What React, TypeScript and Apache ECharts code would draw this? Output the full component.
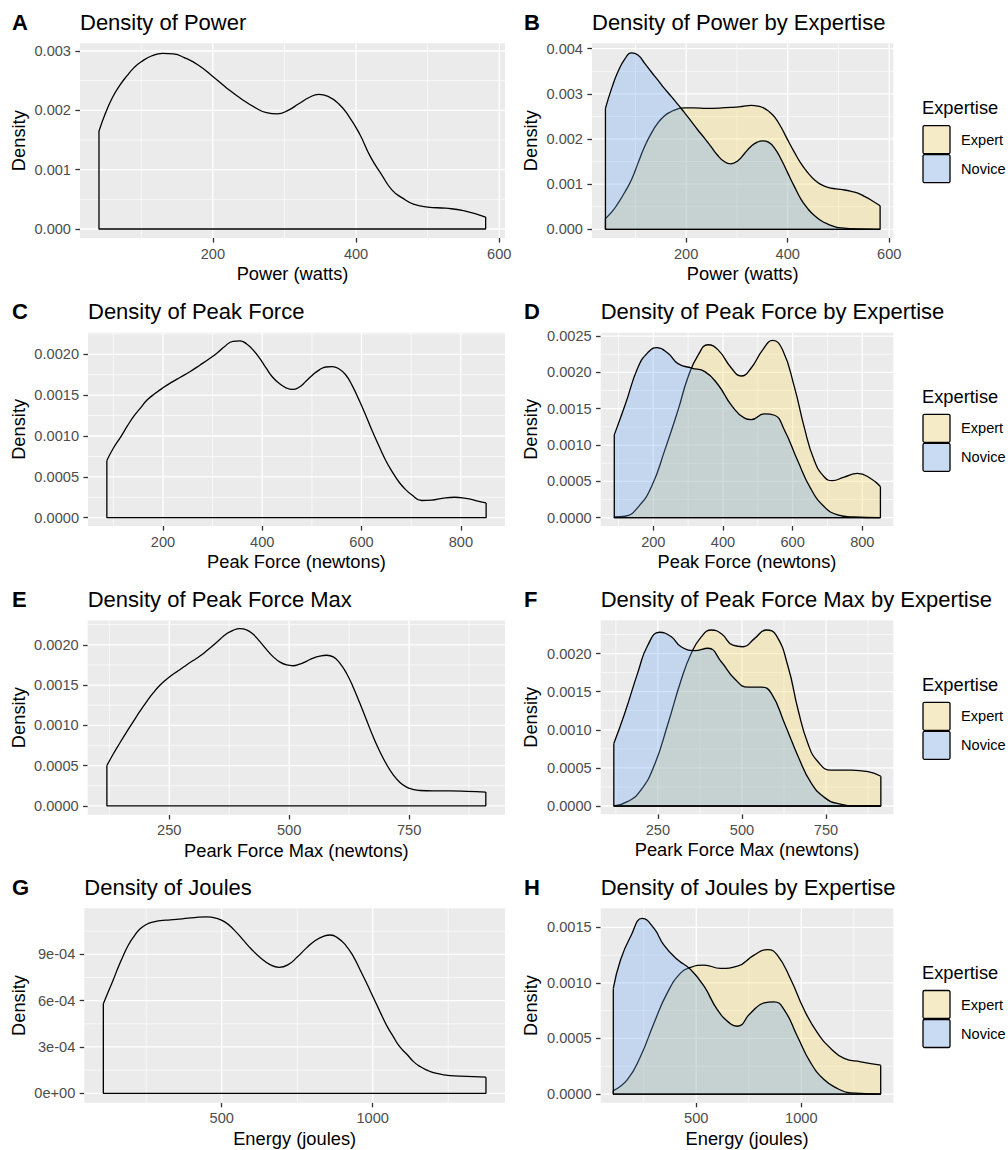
import React, { useEffect, useRef } from "react";
import * as echarts from "echarts";

// ---------------- data ----------------
// A: Power (all)
const powerAllX = [41, 50, 60, 70, 80, 90, 100, 115, 130, 145, 160, 180, 200, 220, 240, 260, 275, 290, 305, 320, 335, 348, 360, 375, 390, 405, 420, 435, 450, 465, 480, 500, 525, 550, 581];
const powerAllY = [0.00165, 0.00195, 0.00222, 0.00242, 0.00258, 0.00272, 0.00282, 0.00292, 0.00296, 0.00295, 0.00289, 0.00276, 0.00257, 0.00237, 0.00219, 0.00204, 0.00196, 0.00194, 0.002, 0.00211, 0.00222, 0.00227, 0.00224, 0.00212, 0.0019, 0.0016, 0.00122, 0.00093, 0.00066, 0.00052, 0.00042, 0.00037, 0.00035, 0.00031, 0.0002];
// B: Power by expertise
const powerNovX = [41, 54, 66, 79, 92, 105, 118, 131, 144, 157, 171, 184, 197, 210, 223, 236, 249, 262, 275, 288, 302, 315, 328, 340, 351, 362, 374, 387, 400, 413, 426, 440, 453, 466, 479, 492, 505, 538, 582];
const powerNovY = [0.00268, 0.00315, 0.0035, 0.00377, 0.00391, 0.00386, 0.00368, 0.00349, 0.00331, 0.00312, 0.00294, 0.00276, 0.00258, 0.00239, 0.0022, 0.00202, 0.00183, 0.00164, 0.0015, 0.00145, 0.00152, 0.00168, 0.00184, 0.00193, 0.00196, 0.00193, 0.0018, 0.00155, 0.00125, 0.00095, 0.00067, 0.00045, 0.0003, 0.00019, 0.000115, 0.00006, 0.00003, 0.000006, 0.0];
const powerExpX = [41, 54, 66, 79, 92, 105, 118, 131, 144, 157, 171, 184, 197, 215, 240, 265, 290, 310, 328, 341, 354, 364, 374, 387, 400, 413, 426, 440, 453, 466, 479, 495, 512, 525, 538, 551, 564, 582];
const powerExpY = [0.00024, 0.00039, 0.00058, 0.00082, 0.00109, 0.00146, 0.00183, 0.00212, 0.00235, 0.00251, 0.00261, 0.00267, 0.00269, 0.00269, 0.00268, 0.002685, 0.0027, 0.00272, 0.002745, 0.00273, 0.00268, 0.0026, 0.00249, 0.00226, 0.00198, 0.00171, 0.00146, 0.00125, 0.00109, 0.00099, 0.00093, 0.000895, 0.00087, 0.00084, 0.0008, 0.00073, 0.00065, 0.00052];
// C: Peak force (all)
const pfAllX = [87, 100, 115, 128, 141, 155, 168, 184, 200, 218, 235, 255, 275, 292, 308, 325, 341, 355, 368, 382, 395, 408, 421, 435, 448, 461, 475, 488, 502, 515, 528, 541, 555, 568, 581, 595, 608, 621, 635, 648, 661, 675, 688, 701, 721, 741, 765, 788, 810, 830, 851];
const pfAllY = [0.0007, 0.00085, 0.00099, 0.00112, 0.00124, 0.001345, 0.00144, 0.00152, 0.00159, 0.00166, 0.00172, 0.00179, 0.00187, 0.00194, 0.00201, 0.0021, 0.00216, 0.002165, 0.00213, 0.00205, 0.00195, 0.00183, 0.00172, 0.00164, 0.00159, 0.00157, 0.0016, 0.00167, 0.00175, 0.00181, 0.001845, 0.00185, 0.00182, 0.00175, 0.00162, 0.00144, 0.00126, 0.00107, 0.00088, 0.00071, 0.00057, 0.00044, 0.00035, 0.00028, 0.00021, 0.000215, 0.00024, 0.00025, 0.000235, 0.00021, 0.00018];
// D: Peak force by expertise
const pfNovX = [88, 119, 157, 186, 210, 243, 271, 310, 348, 386, 424, 462, 481, 519, 548, 576, 614, 652, 691, 729, 776, 852];
const pfNovY = [0.00114, 0.00155, 0.00208, 0.00228, 0.00234, 0.00226, 0.00212, 0.00206, 0.00201, 0.00183, 0.00155, 0.00137, 0.00135, 0.00143, 0.00141, 0.00121, 0.00079, 0.0004, 0.00015, 0.00004, 0.00001, 0.0];
const pfExpX = [88, 119, 157, 195, 233, 271, 300, 329, 357, 386, 424, 452, 481, 514, 543, 571, 605, 633, 662, 691, 714, 748, 786, 824, 852];
const pfExpY = [0.00001, 0.00002, 0.00015, 0.00043, 0.00093, 0.00148, 0.00194, 0.00224, 0.00238, 0.00231, 0.00206, 0.00195, 0.00206, 0.00231, 0.00244, 0.00231, 0.0018, 0.00125, 0.00079, 0.00056, 0.00051, 0.00056, 0.00061, 0.00054, 0.00043];
// E: Peak force max (all)
const pfmAllX = [120, 133, 147, 161, 175, 189, 203, 217, 231, 245, 258, 272, 286, 300, 314, 328, 342, 356, 369, 383, 397, 411, 425, 439, 453, 467, 481, 495, 508, 522, 536, 550, 564, 578, 592, 606, 620, 633, 647, 661, 675, 689, 703, 717, 731, 744, 758, 772, 800, 835, 870, 910];
const pfmAllY = [0.0005, 0.00064, 0.00078, 0.000915, 0.001045, 0.001175, 0.001295, 0.001405, 0.0015, 0.001575, 0.001635, 0.00169, 0.00175, 0.001805, 0.00186, 0.001925, 0.001995, 0.00207, 0.002135, 0.00218, 0.0022, 0.002185, 0.00213, 0.00204, 0.00194, 0.00185, 0.001785, 0.00175, 0.00174, 0.00176, 0.001795, 0.001835, 0.00186, 0.00187, 0.00185, 0.00177, 0.00164, 0.00148, 0.00128, 0.00107, 0.00086, 0.000675, 0.000515, 0.000385, 0.00029, 0.000235, 0.000205, 0.00019, 0.000185, 0.000185, 0.00018, 0.00017];
// F: Peak force max by expertise
const pfmNovX = [119, 151, 191, 220, 255, 290, 319, 359, 399, 439, 478, 518, 558, 587, 627, 667, 706, 746, 786, 845, 913];
const pfmNovY = [0.00082, 0.00121, 0.00176, 0.00211, 0.00228, 0.00222, 0.00209, 0.00204, 0.00207, 0.00189, 0.00167, 0.00156, 0.00156, 0.00148, 0.00108, 0.00065, 0.0003, 0.00011, 0.00003, 0.0, 0.0];
const pfmExpX = [119, 161, 200, 240, 280, 319, 349, 379, 409, 439, 473, 503, 538, 572, 602, 637, 667, 696, 726, 766, 825, 875, 913];
const pfmExpY = [0.0, 0.00006, 0.00021, 0.00054, 0.00108, 0.00165, 0.002, 0.00222, 0.00231, 0.00226, 0.00211, 0.00209, 0.0022, 0.00231, 0.00224, 0.00183, 0.00126, 0.00082, 0.00058, 0.00047, 0.00047, 0.00045, 0.00039];
// G: Joules (all)
const jAllX = [108, 125, 141, 158, 175, 191, 208, 230, 252, 275, 296, 330, 370, 410, 450, 480, 510, 540, 570, 600, 630, 660, 690, 720, 750, 780, 810, 835, 860, 885, 910, 936, 958, 980, 1002, 1024, 1046, 1068, 1090, 1113, 1135, 1157, 1180, 1201, 1256, 1311, 1375];
const jAllY = [0.00058, 0.00066, 0.000735, 0.00082, 0.000895, 0.00096, 0.001012, 0.001065, 0.001095, 0.00111, 0.001118, 0.001123, 0.00113, 0.001138, 0.001143, 0.001135, 0.00111, 0.00106, 0.000995, 0.00093, 0.000875, 0.000833, 0.000816, 0.000833, 0.000882, 0.00094, 0.00099, 0.001015, 0.001025, 0.001005, 0.00096, 0.000885, 0.0008, 0.000712, 0.00062, 0.000529, 0.00044, 0.000367, 0.0003, 0.000253, 0.000205, 0.000173, 0.00015, 0.000134, 0.000114, 0.00011, 0.000104];
// H: Joules by expertise
const jNovX = [105, 140, 188, 243, 299, 346, 410, 473, 537, 600, 664, 696, 759, 823, 870, 918, 981, 1045, 1108, 1172, 1235, 1378];
const jNovY = [0.00095, 0.00121, 0.00142, 0.00158, 0.00149, 0.00134, 0.00121, 0.00112, 0.00097, 0.00076, 0.00063, 0.00061, 0.00073, 0.00082, 0.00083, 0.00076, 0.00052, 0.00028, 0.00013, 0.00005, 0.00001, 0.0];
const jExpX = [105, 172, 235, 299, 362, 426, 473, 537, 616, 696, 775, 839, 886, 950, 1013, 1077, 1140, 1204, 1283, 1378];
const jExpY = [0.00003, 0.00013, 0.00034, 0.00064, 0.00091, 0.00109, 0.00114, 0.00116, 0.00113, 0.00115, 0.00125, 0.0013, 0.00125, 0.00103, 0.00076, 0.00055, 0.00041, 0.00032, 0.00029, 0.00026];

// ---------------- ticks ----------------
const powerTicks = [200, 400, 600];
const powerMinor = [100, 300, 500];
const forceTicks = [200, 400, 600, 800];
const forceMinor = [100, 300, 500, 700];
const forceMaxTicks = [250, 500, 750];
const forceMaxMinor = [125, 375, 625, 875];
const joulesTicks = [500, 1000];
const joulesMinor = [250, 750, 1250];

const yTicksA = [0, 0.001, 0.002, 0.003];
const yLabelsA = ["0.000", "0.001", "0.002", "0.003"];
const yMinorA = [0.0005, 0.0015, 0.0025];
const yTicksB = [0, 0.001, 0.002, 0.003, 0.004];
const yLabelsB = ["0.000", "0.001", "0.002", "0.003", "0.004"];
const yMinorB = [0.0005, 0.0015, 0.0025, 0.0035];
const yTicksC = [0, 0.0005, 0.001, 0.0015, 0.002];
const yLabelsC = ["0.0000", "0.0005", "0.0010", "0.0015", "0.0020"];
const yMinorC = [0.00025, 0.00075, 0.00125, 0.00175, 0.00225];
const yTicksD = [0, 0.0005, 0.001, 0.0015, 0.002, 0.0025];
const yLabelsD = ["0.0000", "0.0005", "0.0010", "0.0015", "0.0020", "0.0025"];
const yMinorD = [0.00025, 0.00075, 0.00125, 0.00175, 0.00225];
const yTicksG = [0, 0.0003, 0.0006, 0.0009];
const yLabelsG = ["0e+00", "3e-04", "6e-04", "9e-04"];
const yMinorG = [0.00015, 0.00045, 0.00075, 0.00105];
const yTicksH = [0, 0.0005, 0.001, 0.0015];
const yLabelsH = ["0.0000", "0.0005", "0.0010", "0.0015"];
const yMinorH = [0.00025, 0.00075, 0.00125];

const groupNames = ["Expert", "Novice"];

// ---------------- styling ----------------
const FONT = "'Liberation Sans', Arial, Helvetica, sans-serif";
const EXPERT_FILL = "rgba(252,218,98,0.3)";
const NOVICE_FILL = "rgba(102,165,245,0.3)";
const EXPERT_KEY = "#F5EBC7";
const NOVICE_KEY = "#C8DBF3";
const LW = 1.3;

type Group = { x: number[]; y: number[]; fill?: string };
type Panel = {
  tag: string;
  title: string;
  xTitle: string;
  col: number;
  grid: { left: number; top: number; width: number; height: number };
  xr: number[];
  yr: number[];
  xMajor: number[];
  xMinor: number[];
  yMajor: number[];
  yMinor: number[];
  yLabels: string[];
  groups: Group[];
  legend: boolean;
};

const panels: Panel[] = [
  {
    tag: "A", title: "Density of Power", xTitle: "Power (watts)", col: 0,
    grid: { left: 80, top: 43.3, width: 425, height: 194.7 },
    xr: [14.5, 608], yr: [-0.000152, 0.00313],
    xMajor: powerTicks, xMinor: powerMinor, yMajor: yTicksA, yMinor: yMinorA, yLabels: yLabelsA,
    groups: [{ x: powerAllX, y: powerAllY }], legend: false,
  },
  {
    tag: "B", title: "Density of Power by Expertise", xTitle: "Power (watts)", col: 1,
    grid: { left: 592, top: 43.3, width: 301.3, height: 194.7 },
    xr: [14.5, 608], yr: [-0.000193, 0.00412],
    xMajor: powerTicks, xMinor: powerMinor, yMajor: yTicksB, yMinor: yMinorB, yLabels: yLabelsB,
    groups: [
      { x: powerExpX, y: powerExpY, fill: EXPERT_FILL },
      { x: powerNovX, y: powerNovY, fill: NOVICE_FILL },
    ], legend: true,
  },
  {
    tag: "C", title: "Density of Peak Force", xTitle: "Peak Force (newtons)", col: 0,
    grid: { left: 88, top: 332.7, width: 417, height: 193.3 },
    xr: [49, 889], yr: [-0.000102, 0.002265],
    xMajor: forceTicks, xMinor: forceMinor, yMajor: yTicksC, yMinor: yMinorC, yLabels: yLabelsC,
    groups: [{ x: pfAllX, y: pfAllY }], legend: false,
  },
  {
    tag: "D", title: "Density of Peak Force by Expertise", xTitle: "Peak Force (newtons)", col: 1,
    grid: { left: 600.7, top: 332.7, width: 292.6, height: 193.3 },
    xr: [49, 889], yr: [-0.000114, 0.002546],
    xMajor: forceTicks, xMinor: forceMinor, yMajor: yTicksD, yMinor: yMinorD, yLabels: yLabelsD,
    groups: [
      { x: pfExpX, y: pfExpY, fill: EXPERT_FILL },
      { x: pfNovX, y: pfNovY, fill: NOVICE_FILL },
    ], legend: true,
  },
  {
    tag: "E", title: "Density of Peak Force Max", xTitle: "Peark Force Max (newtons)", col: 0,
    grid: { left: 87.7, top: 620.5, width: 417.3, height: 194.3 },
    xr: [80, 950], yr: [-0.000112, 0.002302],
    xMajor: forceMaxTicks, xMinor: forceMaxMinor, yMajor: yTicksC, yMinor: yMinorC, yLabels: yLabelsC,
    groups: [{ x: pfmAllX, y: pfmAllY }], legend: false,
  },
  {
    tag: "F", title: "Density of Peak Force Max by Expertise", xTitle: "Peark Force Max (newtons)", col: 1,
    grid: { left: 600.7, top: 620.3, width: 292.6, height: 194 },
    xr: [80, 950], yr: [-0.000109, 0.002437],
    xMajor: forceMaxTicks, xMinor: forceMaxMinor, yMajor: yTicksC, yMinor: yMinorC, yLabels: yLabelsC,
    groups: [
      { x: pfmExpX, y: pfmExpY, fill: EXPERT_FILL },
      { x: pfmNovX, y: pfmNovY, fill: NOVICE_FILL },
    ], legend: true,
  },
  {
    tag: "G", title: "Density of Joules", xTitle: "Energy (joules)", col: 0,
    grid: { left: 84.3, top: 908.3, width: 420.7, height: 194.4 },
    xr: [45, 1438], yr: [-0.000061, 0.001198],
    xMajor: joulesTicks, xMinor: joulesMinor, yMajor: yTicksG, yMinor: yMinorG, yLabels: yLabelsG,
    groups: [{ x: jAllX, y: jAllY }], legend: false,
  },
  {
    tag: "H", title: "Density of Joules by Expertise", xTitle: "Energy (joules)", col: 1,
    grid: { left: 600.7, top: 908.3, width: 292.6, height: 194.4 },
    xr: [45, 1438], yr: [-0.000078, 0.001671],
    xMajor: joulesTicks, xMinor: joulesMinor, yMajor: yTicksH, yMinor: yMinorH, yLabels: yLabelsH,
    groups: [
      { x: jExpX, y: jExpY, fill: EXPERT_FILL },
      { x: jNovX, y: jNovY, fill: NOVICE_FILL },
    ], legend: true,
  },
];

function buildOption() {
  const grids: any[] = [];
  const xAxes: any[] = [];
  const yAxes: any[] = [];
  const series: any[] = [];
  const graphics: any[] = [];

  panels.forEach((p, i) => {
    grids.push({
      left: p.grid.left, top: p.grid.top, width: p.grid.width, height: p.grid.height,
      show: true, backgroundColor: "#EBEBEB", borderWidth: 0, containLabel: false,
      outerBoundsMode: "none",
    });
    const labelFor = (v: number) => {
      const k = p.yMajor.findIndex((t) => Math.abs(t - v) < 1e-10);
      return k >= 0 ? p.yLabels[k] : "";
    };
    xAxes.push({
      type: "value", gridIndex: i, min: p.xr[0], max: p.xr[1],
      axisLine: { show: false, onZero: false },
      axisTick: { show: true, length: 4.6, customValues: p.xMajor, lineStyle: { color: "#333333", width: LW } },
      axisLabel: {
        show: true, customValues: p.xMajor, margin: 8, color: "#4D4D4D", fontSize: 14.6, fontFamily: FONT,
        formatter: (v: number) => String(v),
      },
      splitLine: { show: false }, minorSplitLine: { show: false },
    });
    yAxes.push({
      type: "value", gridIndex: i, min: p.yr[0], max: p.yr[1],
      axisLine: { show: false, onZero: false },
      axisTick: { show: true, length: 4.6, customValues: p.yMajor, lineStyle: { color: "#333333", width: LW } },
      axisLabel: {
        show: true, customValues: p.yMajor, margin: 9, color: "#4D4D4D", fontSize: 14.6, fontFamily: FONT,
        formatter: (v: number) => labelFor(v),
      },
      splitLine: { show: false }, minorSplitLine: { show: false },
    });

    // grid lines (major + minor) drawn from tick arrays through the axis scales
    const gdata: number[][] = [
      ...p.xMajor.map((v) => [v, 0, 0]),
      ...p.xMinor.map((v) => [v, 0, 1]),
      ...p.yMajor.map((v) => [p.xr[0], v, 2]),
      ...p.yMinor.map((v) => [p.xr[0], v, 3]),
    ];
    series.push({
      type: "custom", xAxisIndex: i, yAxisIndex: i, z: 1, silent: true, clip: false,
      encode: { x: 0, y: 1 },
      data: gdata,
      renderItem: (params: any, api: any) => {
        const cs = params.coordSys;
        const kind = api.value(2);
        const w = kind === 0 || kind === 2 ? 1.3 : 0.65;
        const pt = api.coord([api.value(0), api.value(1)]);
        if (kind < 2) {
          return { type: "line", shape: { x1: pt[0], y1: cs.y, x2: pt[0], y2: cs.y + cs.height }, style: { stroke: "#FFFFFF", lineWidth: w } };
        }
        return { type: "line", shape: { x1: cs.x, y1: pt[1], x2: cs.x + cs.width, y2: pt[1] }, style: { stroke: "#FFFFFF", lineWidth: w } };
      },
    });

    p.groups.forEach((g, gi) => {
      const z = 3 + gi;
      series.push({
        type: "line", xAxisIndex: i, yAxisIndex: i, z, silent: true,
        data: g.x.map((v, k) => [v, g.y[k]]),
        smooth: 0.5, symbol: "none", showSymbol: false,
        lineStyle: { color: "#000000", width: LW },
        areaStyle: g.fill ? { color: g.fill, opacity: 1 } : undefined,
      });
      const n = g.x.length - 1;
      series.push({
        type: "line", xAxisIndex: i, yAxisIndex: i, z, silent: true,
        data: [[g.x[0], g.y[0]], [g.x[0], 0], [g.x[n], 0], [g.x[n], g.y[n]]],
        smooth: false, symbol: "none", showSymbol: false,
        lineStyle: { color: "#000000", width: LW },
      });
    });

    // texts
    const gl = p.grid.left, gt = p.grid.top, gw = p.grid.width, gh = p.grid.height;
    graphics.push({
      type: "text", x: p.col === 0 ? 12 : 524, y: gt - 21,
      style: { text: p.tag, fill: "#000", fontSize: 22, fontWeight: "bold", fontFamily: FONT, align: "left", verticalAlign: "middle" },
    });
    graphics.push({
      type: "text", x: gl, y: gt - 21,
      style: { text: p.title, fill: "#000", fontSize: 22, fontFamily: FONT, align: "left", verticalAlign: "middle" },
    });
    graphics.push({
      type: "text", x: gl + gw / 2, y: gt + gh + 35.3,
      style: { text: p.xTitle, fill: "#000", fontSize: 18.3, fontFamily: FONT, align: "center", verticalAlign: "middle" },
    });
    graphics.push({
      type: "text", x: p.col === 0 ? 18.3 : 530.7, y: gt + gh / 2, rotation: Math.PI / 2,
      style: { text: "Density", fill: "#000", fontSize: 18.3, fontFamily: FONT, align: "center", verticalAlign: "middle" },
    });

    if (p.legend) {
      const cy = gt + gh / 2;
      graphics.push({
        type: "text", x: 922, y: cy - 33,
        style: { text: "Expertise", fill: "#000", fontSize: 18.3, fontFamily: FONT, align: "left", verticalAlign: "middle" },
      });
      const keys = [EXPERT_KEY, NOVICE_KEY];
      groupNames.forEach((name, k) => {
        const top = cy - 15 + k * 29;
        graphics.push({
          type: "rect", shape: { x: 923, y: top, width: 27, height: 28, r: 1.5 },
          style: { fill: keys[k], stroke: "#000", lineWidth: LW },
        });
        graphics.push({
          type: "text", x: 961, y: top + 14,
          style: { text: name, fill: "#000", fontSize: 14.6, fontFamily: FONT, align: "left", verticalAlign: "middle" },
        });
      });
    }
  });

  return {
    animation: false,
    backgroundColor: "#FFFFFF",
    grid: grids,
    xAxis: xAxes,
    yAxis: yAxes,
    series,
    graphic: graphics,
  };
}

export default function App() {
  const ref = useRef<HTMLDivElement>(null);
  useEffect(() => {
    document.body.style.margin = "0";
    if (!ref.current) return;
    const chart = echarts.init(ref.current, undefined, { renderer: "svg" });
    chart.setOption(buildOption() as any);
    return () => chart.dispose();
  }, []);
  return <div ref={ref} style={{ width: 1008, height: 1150 }} />;
}
